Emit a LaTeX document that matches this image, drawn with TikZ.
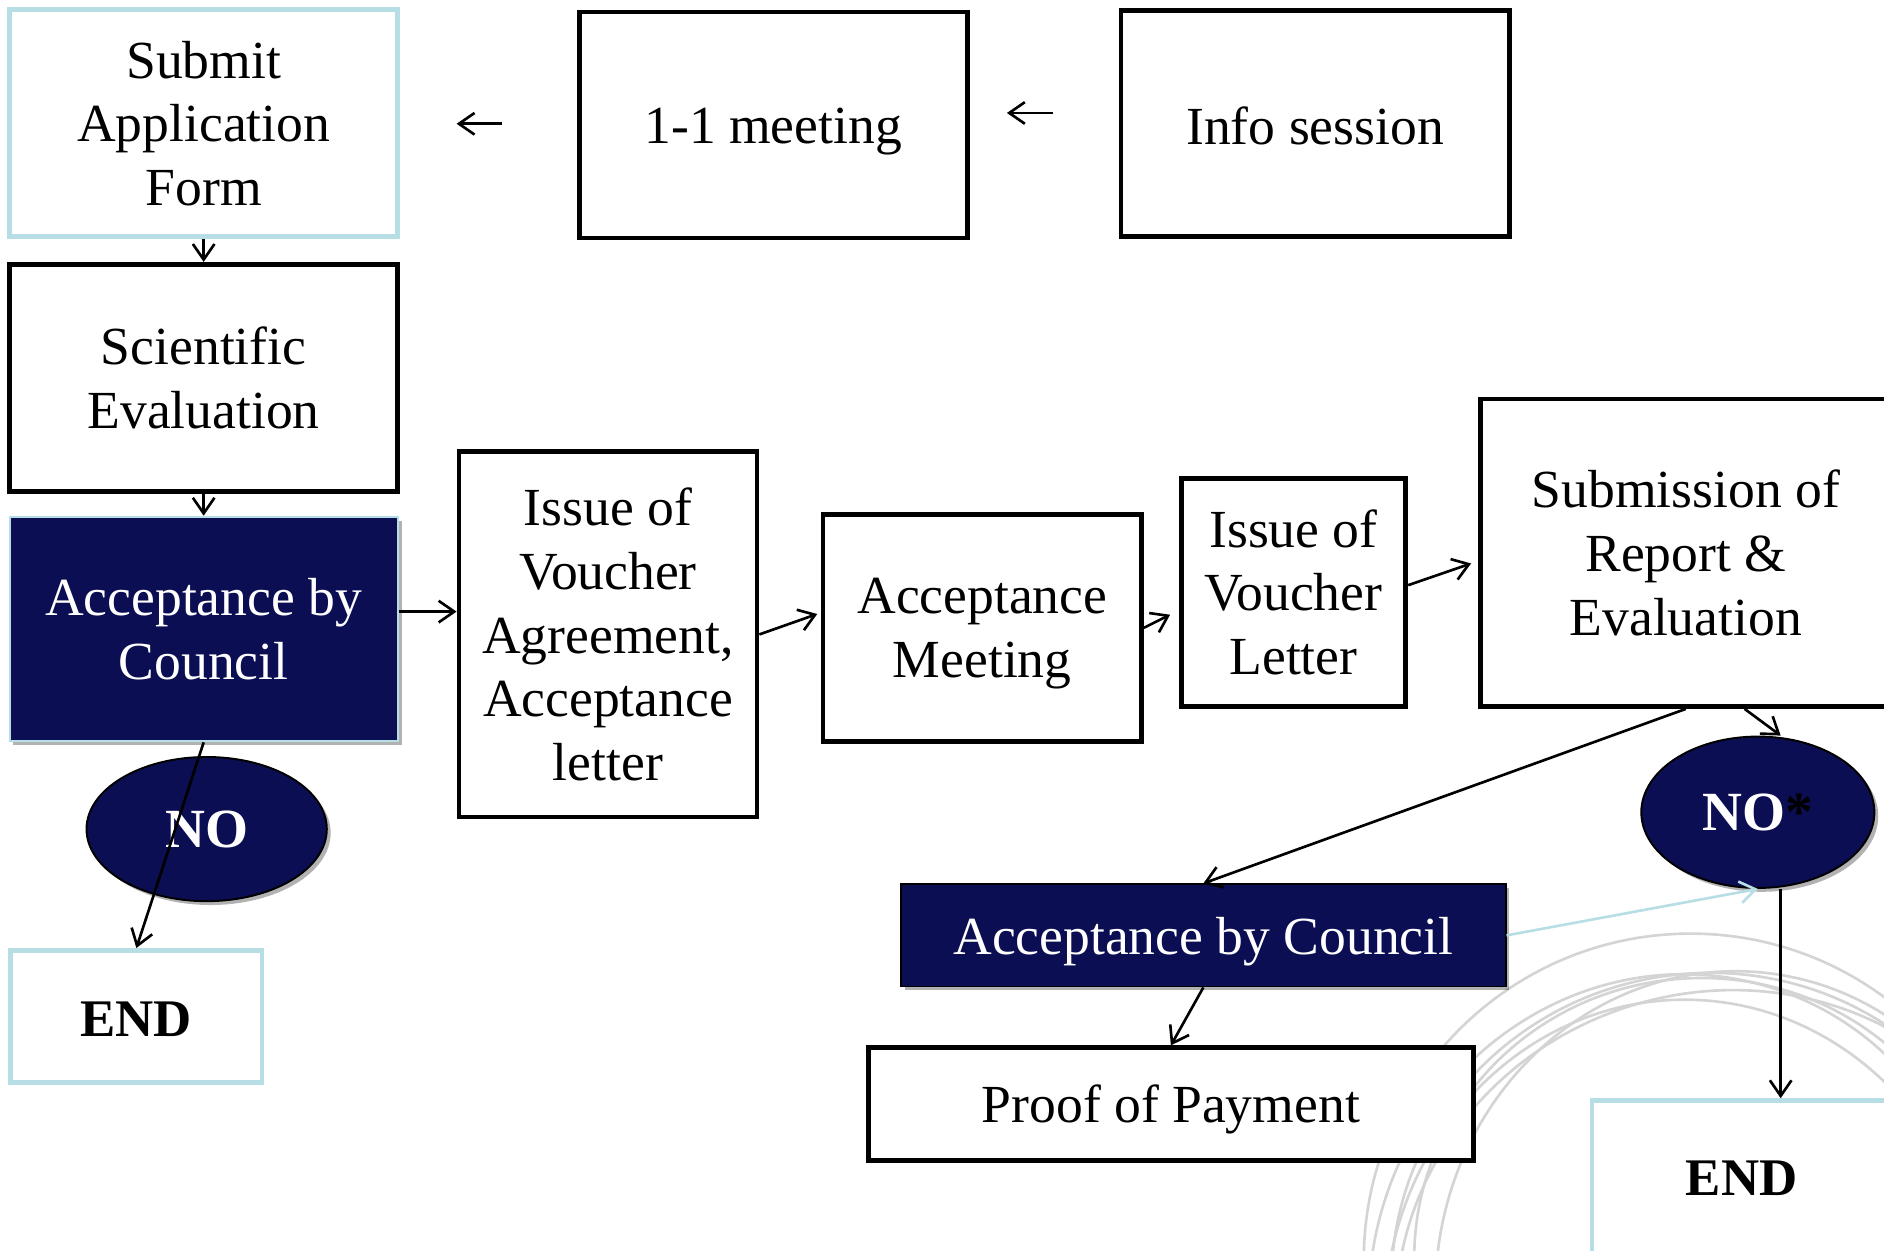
\documentclass[tikz,border=0pt]{standalone}
\usepackage{fontspec}
\setmainfont{Liberation Serif}
\usetikzlibrary{arrows.meta,shapes.geometric,shadows}
\definecolor{navy}{RGB}{11,14,82}
\definecolor{lblue}{RGB}{183,222,228}
\definecolor{arcgray}{RGB}{212,212,212}
\begin{document}
\begin{tikzpicture}[x=0.5pt,y=-0.5pt,
  txt/.style={font=\fontsize{22.3}{26.5}\selectfont, align=center, inner sep=0pt, rectangle},
  blackbox/.style={txt, draw=black, line width=2pt, fill=white},
  bluebox/.style={txt, draw=lblue, line width=2pt, fill=white},
  navybox/.style={txt, fill=navy, text=white, line width=0.8pt,
    drop shadow={shadow xshift=1.6pt, shadow yshift=-1.6pt, opacity=0.3, fill=black}},
  noell/.style={ellipse, fill=navy, draw=black, line width=0.8pt, text=white,
    font=\fontsize{23}{27}\selectfont\bfseries, inner sep=0pt,
    drop shadow={shadow xshift=1.6pt, shadow yshift=-1.6pt, opacity=0.3, fill=black}},
  endbox/.style={bluebox, font=\fontsize{22}{26}\selectfont\bfseries},
  oneline/.style={text height=18pt, text depth=2.5pt},
  conn/.style={-{Straight Barb[length=6.5pt,width=9pt]}, line width=1.1pt},
  arcline/.style={draw=arcgray, line width=1.1pt},
]
\useasboundingbox (0,0) rectangle (1568,1041);
\clip (0,0) rectangle (1568,1041);

% background arcs
\draw[arcline] (1407,1049) ellipse [x radius=272, y radius=272];
\draw[arcline] (1420,1062) ellipse [x radius=262, y radius=252, rotate=10];
\draw[arcline] (1395,1078) ellipse [x radius=255, y radius=268, rotate=-15];
\draw[arcline] (1432,1082) ellipse [x radius=272, y radius=256, rotate=20];
\draw[arcline] (1402,1102) ellipse [x radius=250, y radius=270];
\draw[arcline] (1415,1046) ellipse [x radius=238, y radius=232, rotate=5];
\draw[arcline] (1440,1070) ellipse [x radius=245, y radius=262, rotate=-8];

% nodes
\node[bluebox, text depth=-2pt, minimum width=161.5pt, minimum height=94.5pt] (sub) at (169.5,102.5) {Submit\\Application\\Form};
\node[blackbox, oneline, minimum width=161.5pt, minimum height=94pt] (one) at (643.5,104) {1-1 meeting};
\node[blackbox, text height=18pt, text depth=0.6pt, minimum width=161.5pt, minimum height=94pt] (info) at (1094.5,103) {Info session};
\node[blackbox, text depth=-2pt, minimum width=161.5pt, minimum height=94.5pt] (sci) at (169.5,314.5) {Scientific\\Evaluation};
\node[navybox, draw=lblue, minimum width=161.5pt, minimum height=93.5pt] (acc1) at (169.5,523.5) {Acceptance by\\Council};
\node[noell, minimum width=100pt, minimum height=60pt] (no1) at (172,690) {NO};
\node[endbox, text height=18pt, text depth=1.4pt, minimum width=104.5pt, minimum height=55pt] (end1) at (113.5,846) {END};
\node[blackbox, minimum width=124pt, minimum height=152pt] (iva) at (506,528) {Issue of\\Voucher\\Agreement,\\Acceptance\\letter};
\node[blackbox, text depth=-2.1pt, minimum width=132.5pt, minimum height=94.5pt] (am) at (817.5,522.5) {Acceptance\\Meeting};
\node[blackbox, minimum width=93.5pt, minimum height=95pt] (ivl) at (1076.5,493) {Issue of\\Voucher\\Letter};
\node[blackbox, minimum width=171pt, minimum height=128pt] (subm) at (1403,460) {Submission of\\Report \&\\Evaluation};
\node[navybox, draw=black, oneline, minimum width=251.5pt, minimum height=42.5pt] (acc2) at (1001.5,778.5) {Acceptance by Council};
\node[noell, minimum width=97pt, minimum height=63pt] (nos) at (1463,676) {NO\textcolor{black}{*}};
\node[endbox, text height=14.6pt, text depth=3pt, minimum width=124.5pt, minimum height=67pt] (end2) at (1449.5,983) {END};
\node[blackbox, oneline, minimum width=251.5pt, minimum height=47pt] (proof) at (974.5,919) {Proof of Payment};

% free arrows at the top
\coordinate (t1a) at (418,103);
\coordinate (t1b) at (380,103);
\coordinate (t2a) at (876,94);
\coordinate (t2b) at (838,94);
\draw[conn] (t1a) -- (t1b);
\draw[conn] (t2a) -- (t2b);

% connectors
\draw[conn] (sub.south) -- (sci.north);
\draw[conn] (sci.south) -- (acc1.north);
\draw[conn] ([yshift=7.25pt]acc1.east) -- ([yshift=9.5pt]iva.west);
\draw[conn, shorten >=1.5pt] (iva.east) -- ([yshift=6.25pt]am.west);
\draw[conn, shorten >=4pt] (am.east) -- ([yshift=-7.5pt]ivl.west);
\draw[conn, shorten >=3pt] ([yshift=3pt]ivl.east) -- ([yshift=-3.5pt]subm.west);
\draw[conn] (subm.south) -- (acc2.north);
\draw[conn] ([xshift=24.5pt]subm.south) -- ([xshift=9.5pt]nos.north);
\draw[conn, color=lblue] (acc2.east) -- (nos.south);
\coordinate (e2) at ([xshift=9.5pt]nos.south);
\draw[conn] (e2) -- (e2 |- end2.north);
\draw[conn] (acc1.south) -- (end1.north);
\draw[conn] (acc2.south) -- (proof.north);
\end{tikzpicture}
\end{document}
